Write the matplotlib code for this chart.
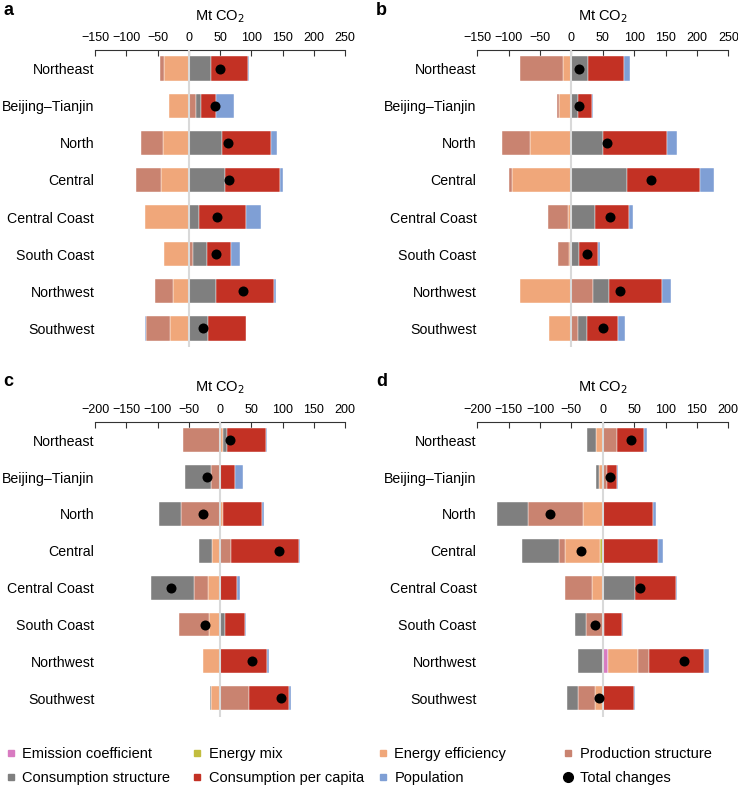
import numpy as np
import matplotlib.pyplot as plt
from matplotlib.lines import Line2D

plt.rcParams['font.family'] = ['Liberation Sans', 'DejaVu Sans']

regions = ["Northeast", "Beijing–Tianjin", "North", "Central",
           "Central Coast", "South Coast", "Northwest", "Southwest"]
factors = ["Emission coefficient", "Energy mix", "Energy efficiency",
           "Production structure", "Consumption structure",
           "Consumption per capita", "Population"]
colors = ["#D87BC1", "#C2BD3F", "#F0A77A", "#C98370",
          "#7F7F7F", "#C33124", "#7F9FD5"]

# columns follow `factors`, rows follow `regions` (Mt CO2)
a_effects = np.array([
    [0, 0, -40.0, -6.0, 35.0, 59.0, 2.0],
    [0, 0, -31.5, 12.0, 7.0, 24.0, 29.0],
    [0, 0, -42.0, -35.0, 53.0, 79.0, 9.0],
    [0, 0, -45.0, -40.0, 58.0, 88.0, 4.0],
    [0, 0, -70.0, 0.0, 16.0, 75.0, 25.0],
    [0, 0, -39.5, 7.5, 21.0, 39.5, 14.5],
    [0, 0, -25.0, -29.0, 43.0, 93.0, 4.0],
    [0, 0, -30.0, -38.0, 31.0, 61.0, -1.5],
])
a_total = [49.6, 41.6, 63.5, 64.5, 45.3, 44.3, 86.4, 23.5]

b_effects = np.array([
    [0, 0, -12.7, -69.6, 26.6, 57.3, 9.6],
    [0, 0, -20.0, -3.0, 10.0, 22.4, 1.6],
    [0, 0, -65.3, -45.7, 49.9, 102.6, 15.9],
    [0, 0, -94.0, -5.9, 89.2, 115.8, 22.4],
    [0, 0, -5.3, -32.4, 37.2, 55.2, 6.4],
    [0, 0, -3.7, -17.0, 12.2, 30.3, 2.7],
    [0, 0, -82.3, 34.0, 25.5, 84.5, 15.4],
    [0, 0, -35.0, 10.1, 14.3, 49.4, 11.2],
])
b_total = [11.7, 11.7, 57.4, 127.5, 61.0, 24.4, 77.0, 50.0]

c_effects = np.array([
    [0, 0, 4.3, -58.7, 6.9, 62.4, 1.1],
    [0, 0, 0.0, -13.9, -42.6, 24.0, 12.3],
    [0, 0, 5.3, -62.4, -35.2, 61.9, 3.2],
    [0, 0, -12.3, 17.0, -21.8, 109.4, 2.1],
    [0, 0, -18.7, -22.9, -69.3, 27.2, 4.8],
    [0, 0, -17.1, -48.5, 8.0, 32.0, 2.1],
    [0, 0, -26.7, 0.0, 0.0, 75.2, 2.7],
    [0, 0, -13.9, 45.9, -2.1, 65.0, 2.1],
])
c_total = [16.0, -20.3, -27.7, 95.0, -78.4, -23.5, 51.2, 97.6]

d_effects = np.array([
    [0, 0, -10.6, 23.4, -14.4, 43.0, 3.7],
    [0, 0, -5.8, 6.4, -5.4, 17.0, 0.5],
    [0, 0, -31.9, -87.1, -49.9, 79.7, 5.3],
    [0, -4.2, -55.8, -9.6, -59.5, 88.2, 7.4],
    [0, 0, -17.0, -42.5, 51.5, 64.8, 2.7],
    [0, 0, 2.7, -27.1, -17.5, 28.6, 1.1],
    [9.0, 0, 47.8, 17.6, -39.3, 87.6, 7.0],
    [0, 1.0, -12.2, -26.6, -18.0, 48.4, 2.1],
])
d_total = [45.2, 12.2, -83.9, -34.0, 60.0, -12.2, 129.0, -5.8]

W, H = 738, 787
fig = plt.figure(figsize=(W / 100, H / 100), dpi=100)


def draw_panel(rect, effects, total, xlim, letter, letter_xy):
    ax = fig.add_axes([rect[0] / W, 1 - (rect[1] + rect[3]) / H, rect[2] / W, rect[3] / H])
    y = np.arange(len(regions))
    pos = np.zeros(len(regions))
    neg = np.zeros(len(regions))
    for j, c in enumerate(colors):
        v = effects[:, j]
        left = np.where(v >= 0, pos, neg)
        ax.barh(y, v, left=left, height=0.65, color=c,
                edgecolor="white", linewidth=0.3, zorder=2)
        pos += np.clip(v, 0, None)
        neg += np.clip(v, None, 0)
    ax.axvline(0, color="#d9d9d9", lw=1.5, zorder=3)
    ax.scatter(total, y, s=52, color="black", zorder=4, linewidths=0)

    ax.set_xlim(*xlim)
    ax.set_ylim(len(regions) - 0.5, -0.5)
    ax.set_xticks(np.arange(xlim[0], xlim[1] + 1, 50))
    ax.set_yticks(y)
    ax.set_yticklabels(regions, fontsize=10.2)
    ax.xaxis.tick_top()
    ax.xaxis.set_label_position("top")
    ax.set_xlabel("Mt CO$_2$", fontsize=10.5, labelpad=9)
    for s in ["left", "right", "bottom"]:
        ax.spines[s].set_visible(False)
    ax.spines["top"].set_color("#333333")
    ax.spines["top"].set_linewidth(0.8)
    ax.tick_params(axis="x", direction="in", length=4, width=0.8,
                   color="#333333", labelsize=9, pad=4)
    ax.tick_params(axis="y", length=0, pad=0.5)
    fig.text(letter_xy[0] / W, 1 - letter_xy[1] / H, letter,
             fontsize=13, fontweight="bold", va="top", ha="left")
    return ax


draw_panel((95, 50, 250, 297), a_effects, a_total, (-150, 250), "a", (3, 2))
draw_panel((477.3, 50, 251, 297), b_effects, b_total, (-150, 250), "b", (376, 2))
draw_panel((95, 421.7, 250, 295), c_effects, c_total, (-200, 200), "c", (3, 373))
draw_panel((477.3, 421.7, 251, 295), d_effects, d_total, (-200, 200), "d", (376, 373))

# legend: four columns of two entries each
handles = [Line2D([], [], marker="s", ls="none", color=c, markersize=5)
           for c in colors]
handles.append(Line2D([], [], marker="o", ls="none", color="black", markersize=7))
labels = factors + ["Total changes"]
columns = [(0, 4), (1, 5), (2, 6), (3, 7)]
col_x = [5, 191, 377, 562]
for (i, k), x in zip(columns, col_x):
    fig.legend([handles[i], handles[k]], [labels[i], labels[k]],
               loc="center left", bbox_to_anchor=(x / W, 1 - 766 / H),
               frameon=False, fontsize=10.5, handlelength=0.8,
               handletextpad=0.4, labelspacing=0.72, borderpad=0,
               borderaxespad=0)

fig.savefig("out.png", dpi=100)
